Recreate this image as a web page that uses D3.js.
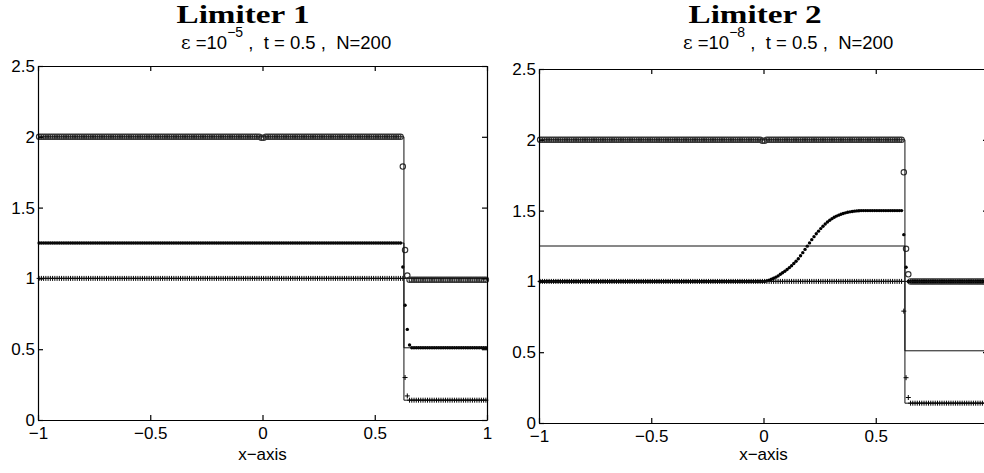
<!DOCTYPE html>
<html>
<head>
<meta charset="utf-8">
<script src="https://cdn.jsdelivr.net/npm/d3@7"></script>
<style>
  html, body { margin: 0; padding: 0; background: #fff; }
  svg { display: block; }
  text { white-space: pre; }
</style>
</head>
<body>
<script>
// Grid size (cell centres on [-1, 1])
const N = 200;

// Axis ticks
const xTicks = [-1, -0.5, 0, 0.5, 1];
const xTickLabels = ['\u22121', '\u22120.5', '0', '0.5', '1'];
const yTicks = [0, 0.5, 1, 1.5, 2, 2.5];
const yTickLabels = ['0', '0.5', '1', '1.5', '2', '2.5'];

// Limiter 1 -- runs of [number of cells, value]
const lim1Circles = [[99, 2.0], [2, 1.993], [61, 2.0], [1, 1.79], [1, 1.2], [1, 1.02], [35, 0.99]];
const lim1Dots = [[162, 1.25], [1, 1.08], [1, 0.81], [1, 0.64], [1, 0.53], [34, 0.51]];
const lim1Plus = [[163, 1.0], [1, 0.30], [1, 0.17], [35, 0.14]];

// Limiter 2
const lim2Circles = [[99, 2.0], [2, 1.993], [61, 2.0], [1, 1.77], [1, 1.23], [1, 1.05], [35, 1.0]];
const lim2Plus = [[162, 1.0], [1, 0.79], [1, 0.32], [1, 0.18], [35, 0.14]];
// rise of the middle variable between x = 0 and x = 0.43
const lim2Rise = [1.0, 1.004, 1.009, 1.015, 1.022, 1.03, 1.039, 1.05, 1.061, 1.072,
                  1.084, 1.097, 1.111, 1.126, 1.142, 1.16, 1.181, 1.203, 1.226, 1.249,
                  1.272, 1.295, 1.316, 1.336, 1.355, 1.373, 1.39, 1.405, 1.419, 1.432,
                  1.443, 1.453, 1.461, 1.468, 1.474, 1.479, 1.484, 1.488, 1.491, 1.494,
                  1.496, 1.498, 1.499];
const lim2Dots = [[100, 1.0]].concat(lim2Rise.map(v => [1, v]), [[19, 1.5], [1, 1.33], [1, 1.1], [36, 1.0]]);

// Exact solution (solid line): left and right states, jump position
const jumpX = 0.63;
const exactLeft = [2.0, 1.25, 1.0];
const exactRight = [1.0, 0.51, 0.14];

const width = 984, height = 473;

const svg = d3.select('body').append('svg')
    .attr('width', width)
    .attr('height', height);

// Turn runs into a list of {x, v} points
function expand(runs) {
    const pts = [];
    runs.forEach(([n, v]) => {
        for (let k = 0; k < n; k++) {
            const i = pts.length;
            pts.push({ x: -1 + (i + 0.5) * 2 / N, v: v });
        }
    });
    return pts;
}

const panels = [
    { left: 38, top: 66, title: 'Limiter 1', titleX: 243, subX: 181, exp: '\u22125',
      circles: lim1Circles, dots: lim1Dots, plus: lim1Plus },
    { left: 539, top: 69, title: 'Limiter 2', titleX: 755, subX: 683, exp: '\u22128',
      circles: lim2Circles, dots: lim2Dots, plus: lim2Plus }
];

const plotW = 449, plotH = 354;
const sansFont = '"Liberation Sans", Arial, sans-serif';

panels.forEach(p => {
    const x = d3.scaleLinear().domain([-1, 1]).range([p.left, p.left + plotW]);
    const y = d3.scaleLinear().domain([0, 2.5]).range([p.top + plotH, p.top]);

    const g = svg.append('g');

    // Markers
    const circlePts = expand(p.circles);
    g.append('g').selectAll('circle')
        .data(circlePts)
        .enter()
        .append('circle')
        .attr('cx', d => x(d.x))
        .attr('cy', d => y(d.v))
        .attr('r', 2.7)
        .attr('fill', 'none')
        .attr('stroke', '#333')
        .attr('stroke-width', 1.1);

    const dotPts = expand(p.dots);
    g.append('g').selectAll('circle')
        .data(dotPts)
        .enter()
        .append('circle')
        .attr('cx', d => x(d.x))
        .attr('cy', d => y(d.v))
        .attr('r', 1.7)
        .attr('fill', '#000');

    const plusPts = expand(p.plus);
    g.append('g').selectAll('path')
        .data(plusPts)
        .enter()
        .append('path')
        .attr('d', d => `M${x(d.x) - 2.5},${y(d.v)}H${x(d.x) + 2.5}M${x(d.x)},${y(d.v) - 2.5}V${y(d.v) + 2.5}`)
        .attr('stroke', '#000')
        .attr('stroke-width', 1);

    // Exact solution lines
    const line = d3.line().x(d => x(d[0])).y(d => y(d[1]));
    exactLeft.forEach((vl, k) => {
        const vr = exactRight[k];
        g.append('path')
            .attr('d', line([[-1, vl], [jumpX, vl], [jumpX, vr], [1, vr]]))
            .attr('fill', 'none')
            .attr('stroke', '#111')
            .attr('stroke-width', 1);
    });

    // Axes, ticks inside on all four sides
    const bottom = g.append('g')
        .attr('transform', `translate(0,${p.top + plotH})`)
        .call(d3.axisBottom(x).tickValues(xTicks).tickSize(-5).tickSizeOuter(0)
            .tickPadding(7).tickFormat((d, i) => xTickLabels[i]));
    g.append('g')
        .attr('transform', `translate(0,${p.top})`)
        .call(d3.axisTop(x).tickValues(xTicks).tickSize(-5).tickSizeOuter(0).tickFormat(''));
    const left = g.append('g')
        .attr('transform', `translate(${p.left},0)`)
        .call(d3.axisLeft(y).tickValues(yTicks).tickSize(-5).tickSizeOuter(0)
            .tickPadding(3).tickFormat((d, i) => yTickLabels[i]));
    g.append('g')
        .attr('transform', `translate(${p.left + plotW},0)`)
        .call(d3.axisRight(y).tickValues(yTicks).tickSize(-5).tickSizeOuter(0).tickFormat(''));

    g.selectAll('.domain, .tick line').attr('stroke', '#000').attr('stroke-width', 1.2);
    [bottom, left].forEach(a => a.selectAll('text')
        .attr('fill', '#000')
        .style('font-family', sansFont)
        .style('font-size', '17px'));

    // x axis label
    g.append('text')
        .attr('x', p.left + plotW / 2)
        .attr('y', 460)
        .attr('text-anchor', 'middle')
        .style('font-family', sansFont)
        .style('font-size', '17px')
        .text('x\u2212axis');

    // Title, two lines
    g.append('text')
        .attr('x', p.titleX)
        .attr('y', 23)
        .attr('text-anchor', 'middle')
        .attr('textLength', 133)
        .attr('lengthAdjust', 'spacingAndGlyphs')
        .style('font-family', '"Liberation Serif", "Times New Roman", serif')
        .style('font-weight', 'bold')
        .style('font-size', '25px')
        .text(p.title);

    const sub = g.append('text')
        .attr('x', p.subX)
        .attr('y', 49)
        .style('font-family', sansFont)
        .style('font-size', '18.5px');
    sub.append('tspan').style('font-family', '"DejaVu Serif", serif').text('\u03b5');
    sub.append('tspan').text(' =10');
    sub.append('tspan').attr('dy', -12).style('font-size', '14px').text(p.exp);
    sub.append('tspan').attr('dy', 12).text(' ,  t = 0.5 ,  N=200');
});
</script>
</body>
</html>
